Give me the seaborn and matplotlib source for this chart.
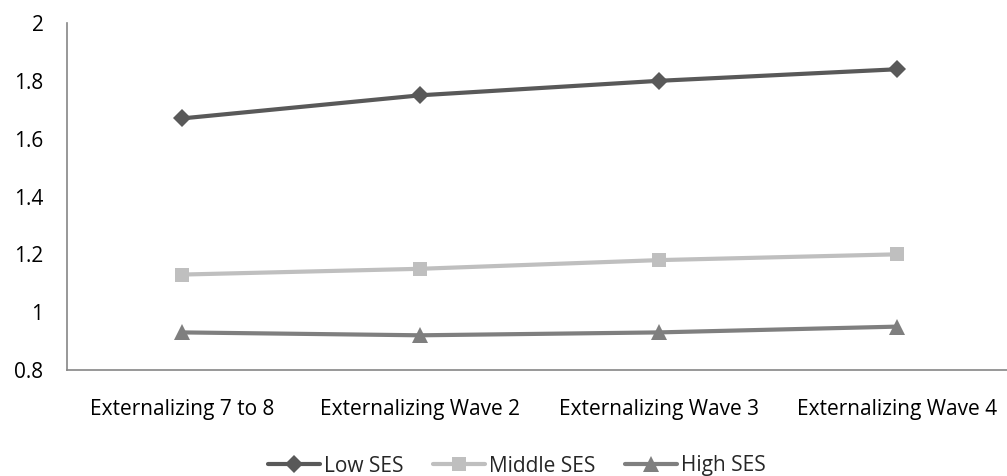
import matplotlib
matplotlib.use("Agg")
import matplotlib.pyplot as plt
import seaborn as sns
import pandas as pd

waves = ["Externalizing 7 to 8", "Externalizing Wave 2",
         "Externalizing Wave 3", "Externalizing Wave 4"]
low_ses = [1.67, 1.75, 1.80, 1.84]
middle_ses = [1.13, 1.15, 1.18, 1.20]
high_ses = [0.93, 0.92, 0.93, 0.95]
groups = ["Low SES", "Middle SES", "High SES"]

sns.set_theme(style="white")
plt.rcParams["font.family"] = ["Open Sans", "DejaVu Sans"]

rows = []
for g, vals in zip(groups, [low_ses, middle_ses, high_ses]):
    for i, v in enumerate(vals):
        rows.append({"x": i, "value": v, "group": g})
df = pd.DataFrame(rows)

palette = {"Low SES": "#595959", "Middle SES": "#BFBFBF", "High SES": "#7F7F7F"}
markers = {"Low SES": "D", "Middle SES": "s", "High SES": "^"}
msize = {"Low SES": 9, "Middle SES": 10, "High SES": 11}

fig = plt.figure(figsize=(10.07, 4.76), dpi=100)
ax = fig.add_axes([67 / 1007, 1 - 370 / 476, 940 / 1007, 347 / 476])

for g in groups:
    sub = df[df["group"] == g]
    sns.lineplot(data=sub, x="x", y="value", ax=ax, color=palette[g],
                 marker=markers[g], markersize=msize[g], markeredgewidth=0,
                 linewidth=3, label=g)

ax.set_xlim(-0.483, 3.462)
ax.set_ylim(0.8, 2.0)
ax.set_yticks([0.8, 1.0, 1.2, 1.4, 1.6, 1.8, 2.0])
ax.set_yticklabels(["0.8", "1", "1.2", "1.4", "1.6", "1.8", "2"])
ax.set_xticks(range(len(waves)))
ax.set_xticklabels(waves)
ax.tick_params(axis="both", length=0, labelsize=15, colors="#000000")
ax.tick_params(axis="x", pad=21)
ax.tick_params(axis="y", pad=17)
ax.set_xlabel("")
ax.set_ylabel("")
for side in ["top", "right"]:
    ax.spines[side].set_visible(False)
for side in ["left", "bottom"]:
    ax.spines[side].set_color("#868686")
    ax.spines[side].set_linewidth(1.2)

ax.legend(loc="center", bbox_to_anchor=(517 / 1007, 1 - 466 / 476),
          bbox_transform=fig.transFigure, ncol=3, frameon=False,
          fontsize=15, handlelength=2.5, handletextpad=0.2,
          columnspacing=1.4, borderaxespad=0)

fig.savefig("out.png", dpi=100)
